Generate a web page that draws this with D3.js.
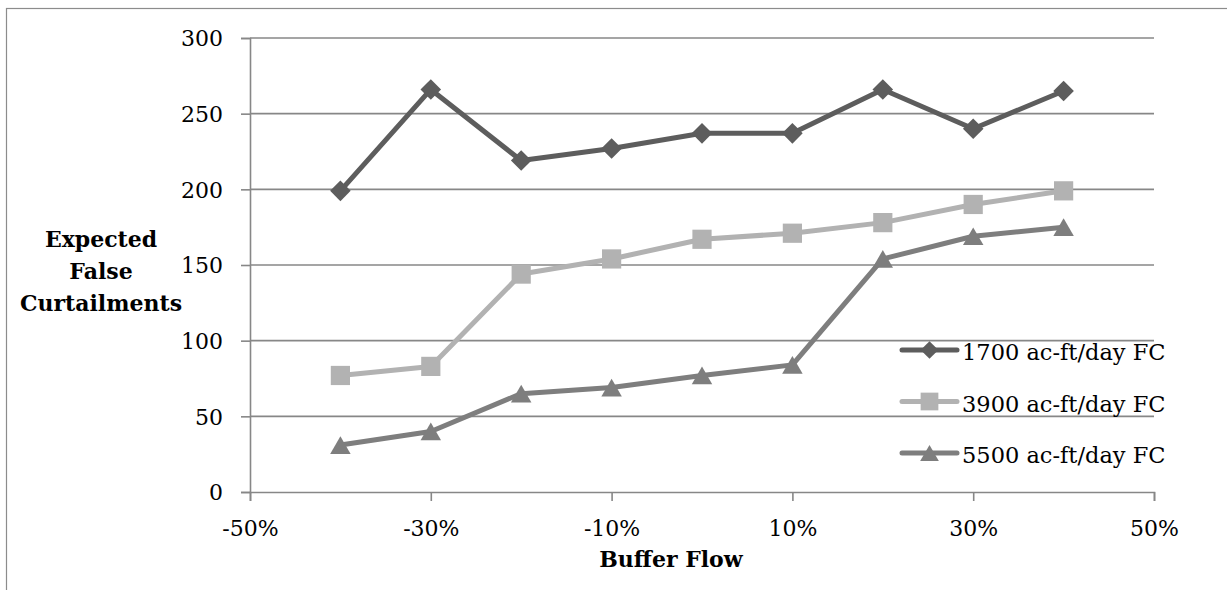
<!DOCTYPE html>
<html>
<head>
<meta charset="utf-8">
<script src="https://cdn.jsdelivr.net/npm/d3@7"></script>
<style>
  html, body { margin: 0; padding: 0; background: #fff; }
  svg { display: block; }
  text { font-family: "DejaVu Serif", "Liberation Serif", serif; fill: #000; }
</style>
</head>
<body>
<svg id="chart" width="1227" height="590"></svg>
<script>
// Buffer flow offsets (percent) and expected false curtailments per flow criterion
const bufferFlow = [-40, -30, -20, -10, 0, 10, 20, 30, 40];
const fc1700 = [199, 266, 219, 227, 237, 237, 266, 240, 265];
const fc3900 = [77, 83, 144, 154, 167, 171, 178, 190, 199];
const fc5500 = [31, 40, 65, 69, 77, 84, 154, 169, 175];
const seriesNames = ["1700 ac-ft/day FC", "3900 ac-ft/day FC", "5500 ac-ft/day FC"];
const xTicks = [-50, -30, -10, 10, 30, 50];
const yTicks = [0, 50, 100, 150, 200, 250, 300];

const series = [
  { name: seriesNames[0], values: fc1700, color: "#5d5d5d", symbol: d3.symbolDiamond2, size: 270, legendSize: 200 },
  { name: seriesNames[1], values: fc3900, color: "#b2b2b2", symbol: d3.symbolSquare2, size: 470, legendSize: 400 },
  { name: seriesNames[2], values: fc5500, color: "#7e7e7e", symbol: d3.symbolTriangle2, size: 300, legendSize: 250 }
];

const svg = d3.select("#chart");
const gridColor = "#878787";

// Outer chart frame (runs off the page on the right and bottom)
svg.append("rect")
  .attr("x", 6.5).attr("y", 8.5)
  .attr("width", 1300).attr("height", 700)
  .attr("fill", "none").attr("stroke", "#8c8c8c").attr("stroke-width", 1.2);

const x = d3.scaleLinear().domain([-50, 50]).range([250, 1154]);
const y = d3.scaleLinear().domain([0, 300]).range([492, 38]);

// Horizontal gridlines
svg.append("g")
  .selectAll("line")
  .data(yTicks.filter(d => d > 0))
  .join("line")
  .attr("x1", x(-50)).attr("x2", x(50))
  .attr("y1", d => y(d)).attr("y2", d => y(d))
  .attr("stroke", gridColor).attr("stroke-width", 1.6);

// Y axis
const yAxis = svg.append("g")
  .attr("transform", `translate(${x(-50)},0)`)
  .call(d3.axisLeft(y).tickValues(yTicks).tickSize(9).tickPadding(18).tickFormat(d3.format("d")));
yAxis.select(".domain").attr("stroke", gridColor).attr("stroke-width", 1.6);
yAxis.selectAll(".tick line").attr("stroke", gridColor).attr("stroke-width", 1.6);
yAxis.selectAll(".tick text")
  .attr("font-size", 22).attr("font-family", "DejaVu Serif").attr("dy", "0.36em");

// X axis
const xAxis = svg.append("g")
  .attr("transform", `translate(0,${y(0)})`)
  .call(d3.axisBottom(x).tickValues(xTicks).tickSize(9).tickPadding(19).tickFormat(d => d + "%"));
xAxis.select(".domain").attr("stroke", gridColor).attr("stroke-width", 1.6);
xAxis.selectAll(".tick line").attr("stroke", gridColor).attr("stroke-width", 1.6);
xAxis.selectAll(".tick text")
  .attr("font-size", 22).attr("font-family", "DejaVu Serif");

// Axis titles
svg.append("text")
  .attr("x", 671).attr("y", 567)
  .attr("text-anchor", "middle")
  .attr("font-size", 22).attr("font-weight", "bold")
  .text("Buffer Flow");

const yTitle = svg.append("text")
  .attr("text-anchor", "middle")
  .attr("font-size", 22).attr("font-weight", "bold");
["Expected", "False", "Curtailments"].forEach((w, i) => {
  yTitle.append("tspan").attr("x", 101).attr("y", 247 + i * 32).text(w);
});

// Centre each marker on its bounding box (triangles sit on their centroid by default)
function markerOffset(s, size) {
  return s.symbol === d3.symbolTriangle2 ? Math.sqrt(size) * 0.6824 / 4 : 0;
}

// Series lines and markers
const line = d3.line().x((d, i) => x(bufferFlow[i])).y(d => y(d));
series.forEach(s => {
  svg.append("path")
    .datum(s.values)
    .attr("d", line)
    .attr("fill", "none")
    .attr("stroke", s.color)
    .attr("stroke-width", 5)
    .attr("stroke-linejoin", "round")
    .attr("stroke-linecap", "round");
  const off = markerOffset(s, s.size);
  svg.append("g")
    .selectAll("path")
    .data(s.values)
    .join("path")
    .attr("transform", (d, i) => `translate(${x(bufferFlow[i])},${y(d) + off})`)
    .attr("d", d3.symbol().type(s.symbol).size(s.size))
    .attr("fill", s.color);
});

// Legend
const legend = svg.append("g");
series.forEach((s, i) => {
  const ly = 350 + i * 51.5;
  const row = legend.append("g").attr("transform", `translate(902,${ly})`);
  row.append("line")
    .attr("x1", 0).attr("x2", 55)
    .attr("stroke", s.color).attr("stroke-width", 5).attr("stroke-linecap", "round");
  row.append("path")
    .attr("transform", `translate(27.5,${markerOffset(s, s.legendSize)})`)
    .attr("d", d3.symbol().type(s.symbol).size(s.legendSize))
    .attr("fill", s.color);
  row.append("text")
    .attr("x", 60).attr("y", 10)
    .attr("font-size", 22.5)
    .text(s.name);
});
</script>
</body>
</html>
